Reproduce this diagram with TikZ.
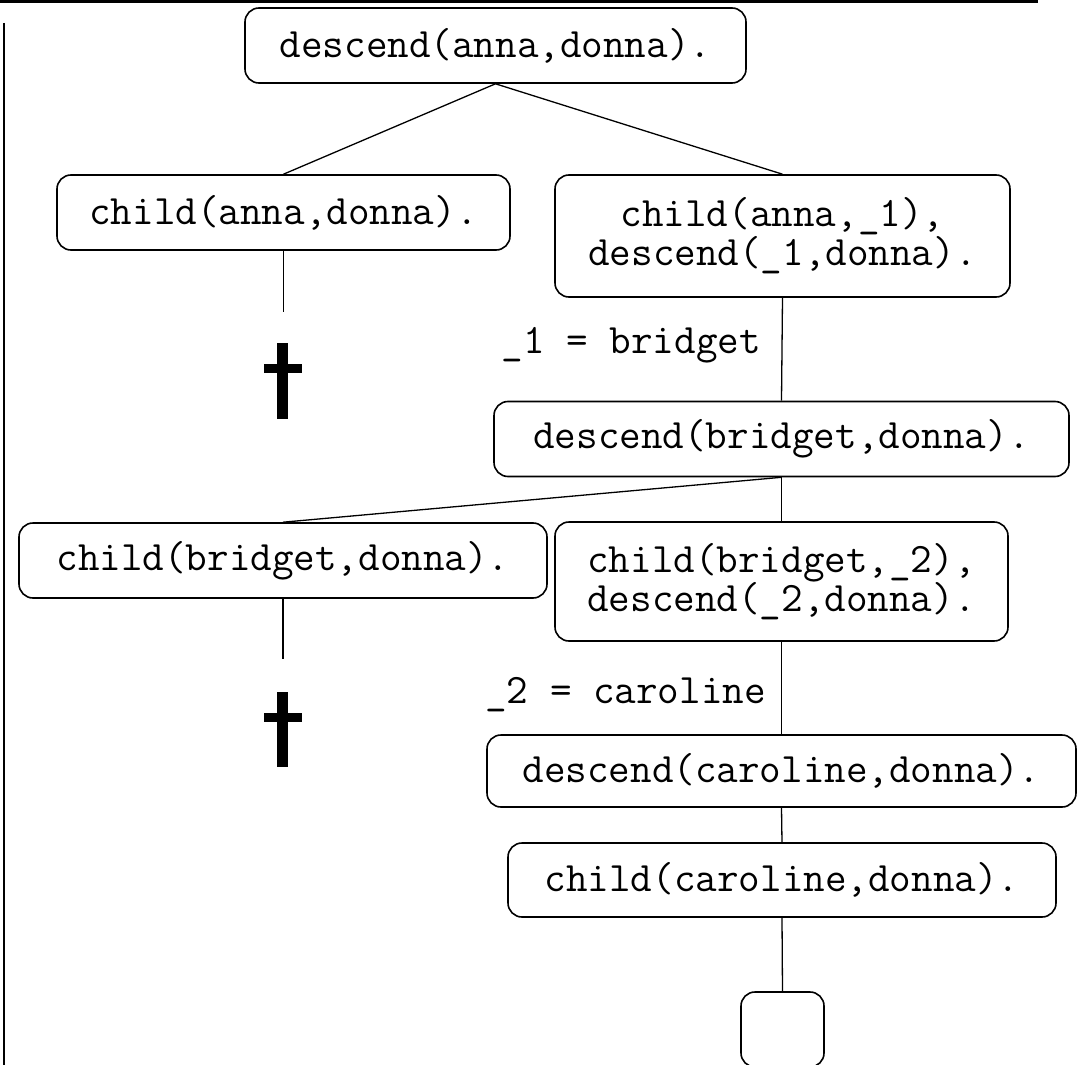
\documentclass[tikz,border=0pt]{standalone}
\usepackage{fontspec}
\begin{document}
\begin{tikzpicture}[x=1pt,y=-1pt,
  goal/.style={draw, line width=1.6pt, rounded corners=14pt,
    font=\ttfamily\fontsize{41.9}{39}\selectfont,
    inner xsep=0pt, inner ysep=0pt, minimum height=75pt, align=center},
  conn/.style={line width=1.3pt},
  lbl/.style={font=\ttfamily\fontsize{41.9}{39}\selectfont, anchor=base east, inner sep=0pt},
  deadmark/.style={fill=black}]
\useasboundingbox (0,0) rectangle (1077,1065);
% frame lines
\draw[line width=3pt] (0,1.5) -- (1038,1.5);
\draw[line width=2pt] (3.5,23) -- (3.5,1065);
% nodes
\node[goal, minimum width=501pt] (n1) at (495.5,45.5) {descend(anna,donna).};
\node[goal, minimum width=453pt] (n2) at (283.5,212.5) {child(anna,donna).};
\node[goal, minimum width=455pt, minimum height=122pt] (n3) at (782.5,236) {child(anna,\_1),\\descend(\_1,donna).};
\node[goal, minimum width=575pt] (n4) at (781.5,439) {descend(bridget,donna).};
\node[goal, minimum width=528pt] (n5) at (283,560.5) {child(bridget,donna).};
\node[goal, minimum width=453pt, minimum height=119pt] (n6) at (781.5,581.5) {child(bridget,\_2),\\descend(\_2,donna).};
\node[goal, minimum width=589pt, minimum height=72pt] (n7) at (781.5,771) {descend(caroline,donna).};
\node[goal, minimum width=548pt, minimum height=74pt] (n8) at (782,880) {child(caroline,donna).};
\node[goal, minimum width=83pt, minimum height=75pt] (n9) at (782.5,1029.5) {};
% free ends
\coordinate (f1) at (283.5,312);
\coordinate (f2) at (283,659);
% connectors
\draw[conn] (n1.south) -- (n2.north);
\draw[conn] (n1.south) -- (n3.north);
\draw[conn] (n2.south) -- (f1);
\draw[conn] (n3.south) -- (n4.north);
\draw[conn] (n4.south) -- (n5.north);
\draw[conn] (n4.south) -- (n6.north);
\draw[conn] (n5.south) -- (f2);
\draw[conn] (n6.south) -- (n7.north);
\draw[conn] (n7.south) -- (n8.north);
\draw[conn] (n8.south) -- (n9.north);
% labels
\node[lbl] (l1) at (761,353) {\_1 = bridget};
\node[lbl] (l2) at (766,703) {\_2 = caroline};
% failure marks (daggers)
\fill[deadmark] (277,343) rectangle (288,419);
\fill[deadmark] (264,364) rectangle (302,373);
\fill[deadmark] (277,692) rectangle (288,767);
\fill[deadmark] (264,713) rectangle (302,722);
\end{tikzpicture}
\end{document}
